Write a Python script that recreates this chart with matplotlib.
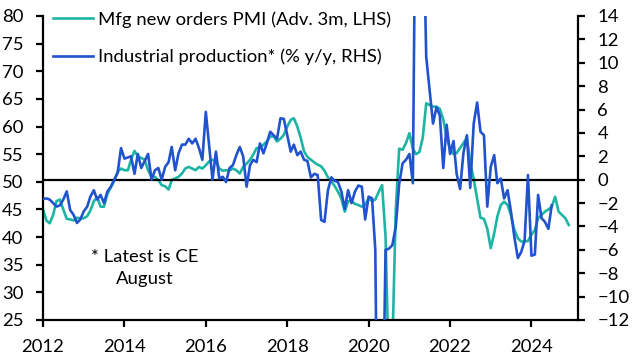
import matplotlib
matplotlib.use("Agg")
import matplotlib.pyplot as plt
import matplotlib.dates as mdates
import pandas as pd

plt.rcParams['font.family'] = ['Lato', 'DejaVu Sans']

# Mfg new orders PMI (advanced 3 months), LHS, monthly from Jan 2012
pmi = [45.0, 43.0, 42.5, 44.0, 46.5, 46.8, 45.0, 43.3, 43.2, 43.0, 43.5, 43.4,
       43.4, 43.8, 44.8, 46.5, 47.2, 45.5, 45.5, 47.8, 49.0, 50.2, 51.8, 52.4,
       52.1, 52.1, 54.0, 55.6, 54.6, 54.3, 54.0, 52.1, 50.9, 50.9, 50.3, 49.4,
       49.2, 48.6, 50.3, 50.6, 50.9, 51.5, 52.4, 52.7, 52.4, 52.1, 52.7, 52.4,
       53.0, 53.7, 54.0, 53.7, 52.4, 52.0, 52.1, 52.1, 52.4, 52.1, 51.5, 52.7,
       53.3, 54.0, 54.9, 56.1, 56.1, 56.7, 57.3, 58.2, 58.2, 57.3, 57.8, 58.5,
       60.0, 61.2, 61.5, 60.0, 58.0, 55.5, 54.5, 54.0, 53.5, 53.1, 52.8, 52.0,
       50.8, 50.0, 49.3, 48.2, 47.0, 44.6, 46.5, 46.5, 46.0, 45.8, 45.5, 45.8,
       47.0, 46.5, 46.8, 48.2, 49.4, 40.0, 15.0, 20.0, 45.0, 56.0, 55.8, 57.0,
       58.8, 56.0, 55.0, 55.4, 58.0, 64.2, 63.9, 63.6, 63.6, 63.2, 61.3, 58.0,
       56.0, 55.0, 55.2, 56.1, 57.0, 58.0, 53.5, 50.5, 47.0, 43.5, 43.3, 41.5,
       38.0, 40.7, 43.7, 45.8, 46.4, 45.8, 44.0, 41.3, 39.8, 39.2, 39.2, 39.3,
       40.4, 41.3, 43.4, 44.0, 44.6, 45.0, 45.5, 47.3, 44.6, 44.0, 43.4, 42.2]

# Industrial production (% y/y), RHS, monthly from Jan 2012
ip = [-1.65, -1.6, -1.7, -2.0, -2.3, -2.2, -1.7, -1.0, -2.6, -3.0, -3.7, -3.4,
      -2.7, -2.3, -1.45, -0.9, -1.7, -1.3, -2.0, -1.0, -0.6, 0.0, 0.6, 2.7,
      1.8, 1.9, 2.0, 0.5, 2.2, 1.0, 1.6, 2.2, 0.0, 0.8, 1.0, 0.0,
      1.1, 1.5, 2.8, 0.8, 2.25, 3.0, 3.0, 3.5, 3.1, 3.5, 2.7, 1.7,
      5.8, 2.8, 0.0, 2.4, 0.1, 0.25, -0.2, 1.0, 1.25, 2.1, 2.8, 2.0,
      -0.6, 1.25, 1.7, 1.5, 3.1, 2.25, 3.1, 4.1, 3.8, 3.5, 5.25, 5.2,
      3.8, 2.4, 3.0, 2.1, 2.4, 1.7, 1.6, 0.2, 0.5, 0.4, -3.45, -3.6,
      -0.9, 0.2, -0.1, -0.2, -1.0, -2.5, -0.9, -2.0, -1.0, -0.5, -0.6, -3.4,
      -1.45, -1.6, -6.0, -35.0, -25.0, -6.0, -5.9, -5.6, -4.0, -0.4, 1.4, 1.7,
      2.2, -0.3, 30.0, 40.0, 25.0, 10.5, 7.7, 4.8, 6.2, 5.5, 1.0, 4.7,
      2.2, 3.3, 0.5, -0.8, 2.3, 3.8, -0.7, 4.8, 6.6, 4.1, 3.8, -2.3,
      1.1, 2.1, -0.3, 0.1, -1.6, -0.9, -2.7, -4.9, -6.7, -6.2, -5.2, 0.4,
      -6.5, -6.4, -1.3, -3.3, -3.6, -4.2, -2.2]

pmi_dates = pd.date_range('2012-01-01', periods=len(pmi), freq='MS')
ip_dates = pd.date_range('2012-01-01', periods=len(ip), freq='MS')

teal = '#1cb5a3'
blue = '#2153cc'

fig = plt.figure(figsize=(6.36, 3.62), dpi=100)
ax = fig.add_axes([43/636, 1-320/362, (578-43)/636, (320-16)/362])
ax2 = ax.twinx()

l1, = ax.plot(pmi_dates, pmi, color=teal, lw=1.9, solid_joinstyle='round')
ax2.axhline(0, color='black', lw=1.6, zorder=1)
l2, = ax2.plot(ip_dates, ip, color=blue, lw=1.9, zorder=2, solid_joinstyle='round')

ax.set_ylim(25, 80)
ax.set_yticks(range(25, 81, 5))
ax2.set_ylim(-12, 14)
ax2.set_yticks(range(-12, 15, 2))
ax.set_xlim(pd.Timestamp('2012-01-01'), pd.Timestamp('2025-02-22'))
ax.xaxis.set_major_locator(mdates.YearLocator(2))
ax.xaxis.set_major_formatter(mdates.DateFormatter('%Y'))

for a in (ax, ax2):
    a.spines['top'].set_visible(False)
    for s in ('left', 'right', 'bottom'):
        a.spines[s].set_linewidth(1.6)
    a.tick_params(axis='both', length=5, width=1.6, labelsize=13.3, pad=9)
ax.spines['right'].set_visible(False)
ax2.spines['left'].set_visible(False)
ax2.spines['bottom'].set_visible(False)
ax.tick_params(axis='x', pad=9)

leg = ax.legend([l1, l2], ['Mfg new orders PMI (Adv. 3m, LHS)',
                           'Industrial production* (% y/y, RHS)'],
                loc='upper left', bbox_to_anchor=(-0.013, 1.07), frameon=False,
                fontsize=13.3, handlelength=2.2, handletextpad=0.28,
                labelspacing=1.12, borderaxespad=0.5)
leg.set_zorder(5)

ax.text(0.19, 0.171, '* Latest is CE\nAugust', transform=ax.transAxes,
        ha='center', va='center', fontsize=13.3, multialignment='center',
        linespacing=1.48)

fig.savefig('out.png', dpi=100)
